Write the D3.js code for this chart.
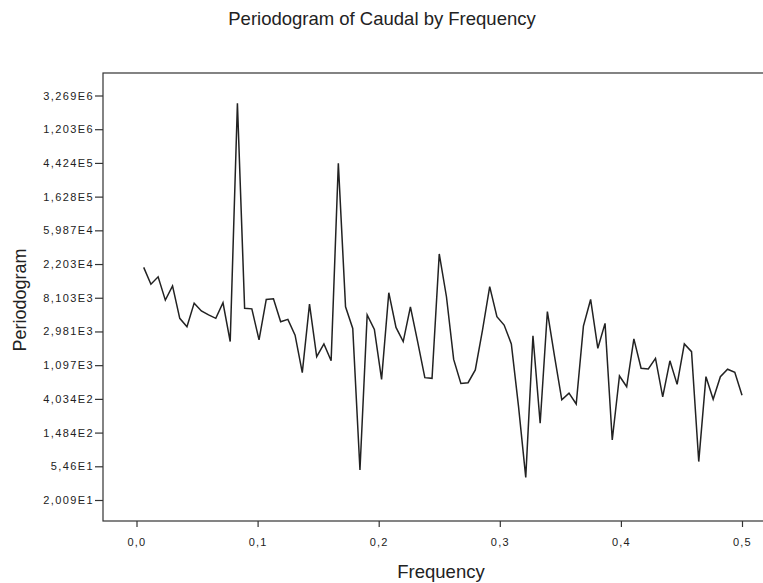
<!DOCTYPE html>
<html>
<head>
<meta charset="utf-8">
<script src="https://cdn.jsdelivr.net/npm/d3@7"></script>
<style>
  html, body { margin: 0; padding: 0; background: #fff; }
  svg { display: block; }
  text { font-family: Arial, "Liberation Sans", sans-serif; fill: #222; }
</style>
</head>
<body>
<svg id="chart" width="763" height="583"></svg>
<script>
// Frequencies k/168, k = 1..84
const frequencyIndex = d3.range(1, 85);
const sampleCount = 168;

// Periodogram values (log scale)
const periodogram = [
  19930, 12088, 15063, 7555, 11499, 4402, 3429, 6905, 5486, 4866,
  4402, 6974, 2208, 2598000, 5943, 5826, 2322, 7707, 7863, 3983,
  4272, 2671, 880, 6701, 1408, 2059, 1249, 437000, 6186, 3262,
  48.9, 4866, 3165, 720, 9414, 3361, 2208, 6186, 2208, 757,
  742, 29733, 8350, 1300, 639, 652, 953, 3103, 11271, 4629,
  3605, 2059, 321, 39.3, 2617, 196, 5377, 1408, 392, 478,
  347, 3498, 7707, 1808, 3790, 119, 796, 578, 2392, 1002,
  982, 1339, 429, 1249, 620, 2059, 1636, 62.8, 780, 399,
  780, 973, 889, 450
];

// Axis ticks
const yTickExponents = [3, 4, 5, 6, 7, 8, 9, 10, 11, 12, 13, 14, 15];
const yTickLabels = ["2,009E1", "5,46E1", "1,484E2", "4,034E2", "1,097E3", "2,981E3",
  "8,103E3", "2,203E4", "5,987E4", "1,628E5", "4,424E5", "1,203E6", "3,269E6"];
const xTickValues = [0, 0.1, 0.2, 0.3, 0.4, 0.5];
const xTickLabels = ["0,0", "0,1", "0,2", "0,3", "0,4", "0,5"];

const data = frequencyIndex.map((k, i) => ({ f: k / sampleCount, p: periodogram[i] }));

const svg = d3.select("#chart");

const frame = { left: 103, top: 73, right: 775, bottom: 521 };

const x = d3.scaleLinear().domain([0, 0.5]).range([136.5, 742]);
const y = d3.scaleLog().base(Math.E)
  .domain([Math.exp(3), Math.exp(15)])
  .range([500, 95.5]);

// Frame
svg.append("rect")
  .attr("x", frame.left).attr("y", frame.top)
  .attr("width", frame.right - frame.left)
  .attr("height", frame.bottom - frame.top)
  .attr("fill", "none").attr("stroke", "#333").attr("stroke-width", 1.2);

// Y axis
const yAxis = d3.axisLeft(y)
  .tickValues(yTickExponents.map(e => Math.exp(e)))
  .tickFormat((d, i) => yTickLabels[i])
  .tickSize(8).tickPadding(1);
const gy = svg.append("g").attr("transform", `translate(${frame.left},0)`).call(yAxis);
gy.select(".domain").remove();
gy.selectAll(".tick line").attr("stroke", "#333").attr("stroke-width", 1.2);
gy.selectAll(".tick text")
  .attr("font-size", 11).attr("letter-spacing", "1.4px")
  .attr("fill", "#222").attr("font-family", "Arial, 'Liberation Sans', sans-serif");

// X axis
const xAxis = d3.axisBottom(x)
  .tickValues(xTickValues)
  .tickFormat((d, i) => xTickLabels[i])
  .tickSize(6).tickPadding(11);
const gx = svg.append("g").attr("transform", `translate(0,${frame.bottom})`).call(xAxis);
gx.select(".domain").remove();
gx.selectAll(".tick line").attr("stroke", "#333").attr("stroke-width", 1.2);
gx.selectAll(".tick text")
  .attr("font-size", 11).attr("letter-spacing", "1.2px")
  .attr("fill", "#222").attr("font-family", "Arial, 'Liberation Sans', sans-serif");

// Line
const line = d3.line().x(d => x(d.f)).y(d => y(d.p));
svg.append("path")
  .datum(data)
  .attr("d", line)
  .attr("fill", "none")
  .attr("stroke", "#222")
  .attr("stroke-width", 1.5)
  .attr("stroke-linejoin", "miter");

// Titles
svg.append("text")
  .attr("x", 382).attr("y", 25)
  .attr("text-anchor", "middle")
  .attr("font-size", 18.5)
  .text("Periodogram of Caudal by Frequency");

svg.append("text")
  .attr("x", 441).attr("y", 578)
  .attr("text-anchor", "middle")
  .attr("font-size", 18.5)
  .text("Frequency");

svg.append("text")
  .attr("transform", "translate(26,300) rotate(-90)")
  .attr("text-anchor", "middle")
  .attr("font-size", 18)
  .text("Periodogram");
</script>
</body>
</html>
